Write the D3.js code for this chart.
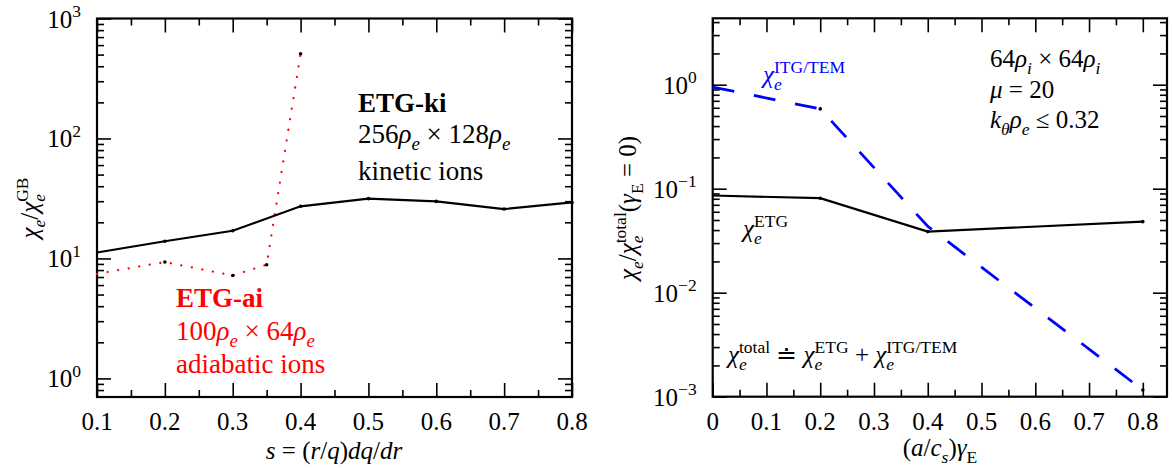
<!DOCTYPE html>
<html>
<head>
<meta charset="utf-8">
<script src="https://cdn.jsdelivr.net/npm/d3@7"></script>
<style>
  body { margin: 0; background: #fff; }
  svg text { font-family: "Liberation Serif", "Times New Roman", serif; }
</style>
</head>
<body>
<svg id="chart" width="1172" height="468"></svg>
<script>
// Left panel: chi_e / chi_GB vs magnetic shear s
var shearKinetic = [0.1, 0.2, 0.3, 0.4, 0.5, 0.6, 0.7, 0.8];
var chiKinetic = [11.2, 13.9, 17.0, 27.2, 31.5, 29.9, 25.8, 29.3];
var shearAdiabatic = [0.1, 0.2, 0.3, 0.35, 0.4];
var chiAdiabatic = [7.45, 9.33, 7.21, 8.86, 508];

// Right panel: normalised chi_e vs E x B shear rate
var gammaETG = [0, 0.2, 0.4, 0.8];
var chiETG = [0.086, 0.081, 0.0387, 0.0482];
var gammaITG = [0, 0.2, 0.4, 0.8];
var chiITG = [0.95, 0.585, 0.0435, 0.00116];

var leftXTicks = [0.1, 0.2, 0.3, 0.4, 0.5, 0.6, 0.7, 0.8];
var rightXTicks = [0, 0.1, 0.2, 0.3, 0.4, 0.5, 0.6, 0.7, 0.8];
var leftYTicks = [1, 10, 100, 1000];
var rightYTicks = [0.001, 0.01, 0.1, 1];

var svg = d3.select("#chart");

// text with italic / sub / sup pieces
function rich(sel, x, y, parts, o) {
    o = o || {};
    var fs = o.size || 25;
    var t = sel.append("text")
        .attr("x", x).attr("y", y)
        .style("font-size", fs + "px")
        .attr("fill", o.color || "#000")
        .attr("text-anchor", o.anchor || "start");
    if (o.rotate) t.attr("transform", "rotate(-90," + x + "," + y + ")");
    var cur = 0, prev = null;
    parts.forEach(function(p) {
        var txt = p[0], f = p[1] || "";
        var sub = f.indexOf("_") >= 0, sup = f.indexOf("^") >= 0;
        var off = sub ? 0.27 * fs : sup ? -0.42 * fs : 0;
        var ts = t.append("tspan").text(txt).attr("dy", off - cur);
        cur = off;
        if (sub || sup) ts.style("font-size", (fs * 0.7) + "px");
        if (f.indexOf("i") >= 0) ts.style("font-style", "italic");
        if (f.indexOf("b") >= 0) ts.style("font-weight", "bold");
        if (f.indexOf("<") >= 0 && prev) ts.attr("dx", -prev.node().getComputedTextLength());
        prev = ts;
    });
    return t;
}

function logMinor(lo, hi) {
    var out = [];
    for (var e = Math.floor(Math.log10(lo)); e <= Math.ceil(Math.log10(hi)); e++) {
        for (var m = 2; m <= 9; m++) {
            var v = m * Math.pow(10, e);
            if (v > lo * 1.0001 && v < hi) out.push(v);
        }
    }
    return out;
}

function frame(x, y, xTicks, xMinor, yTicks, yMinor, fmt) {
    var L = x.range()[0], R = x.range()[1], B = y.range()[0], T = y.range()[1];
    var g = svg.append("g");

    function axisGroup(axis, tx, ty) {
        var a = g.append("g").attr("transform", "translate(" + tx + "," + ty + ")").call(axis);
        a.select(".domain").remove();
        a.selectAll("line").attr("stroke", "#000").attr("stroke-width", 1.6);
        return a;
    }
    // major + minor ticks on all four sides, pointing inward
    axisGroup(d3.axisBottom(x).tickValues(xTicks).tickSizeInner(-14).tickSizeOuter(0).tickFormat(""), 0, B);
    axisGroup(d3.axisBottom(x).tickValues(xMinor).tickSizeInner(-7).tickSizeOuter(0).tickFormat(""), 0, B);
    axisGroup(d3.axisTop(x).tickValues(xTicks).tickSizeInner(-14).tickSizeOuter(0).tickFormat(""), 0, T);
    axisGroup(d3.axisTop(x).tickValues(xMinor).tickSizeInner(-7).tickSizeOuter(0).tickFormat(""), 0, T);
    axisGroup(d3.axisLeft(y).tickValues(yTicks).tickSizeInner(-14).tickSizeOuter(0).tickFormat(""), L, 0);
    axisGroup(d3.axisLeft(y).tickValues(yMinor).tickSizeInner(-7).tickSizeOuter(0).tickFormat(""), L, 0);
    axisGroup(d3.axisRight(y).tickValues(yTicks).tickSizeInner(-14).tickSizeOuter(0).tickFormat(""), R, 0);
    axisGroup(d3.axisRight(y).tickValues(yMinor).tickSizeInner(-7).tickSizeOuter(0).tickFormat(""), R, 0);

    g.append("rect")
        .attr("x", L).attr("y", T).attr("width", R - L).attr("height", B - T)
        .attr("fill", "none").attr("stroke", "#000").attr("stroke-width", 2.2);

    // tick labels
    xTicks.forEach(function(v) {
        rich(g, x(v), 430, [[fmt(v)]], { anchor: "middle" });
    });
    yTicks.forEach(function(v) {
        var e = Math.round(Math.log10(v));
        rich(g, L - 16, y(v) + 9, [["10"], [String(e).replace("-", "\u2212"), "^"]], { anchor: "end" });
    });
    return g;
}

function series(x, y, xs, ys, color, width, dash, dots) {
    var line = d3.line().x(function(d) { return x(d[0]); }).y(function(d) { return y(d[1]); });
    var pts = xs.map(function(v, i) { return [v, ys[i]]; });
    var p = svg.append("path").datum(pts).attr("d", line)
        .attr("fill", "none").attr("stroke", color).attr("stroke-width", width);
    if (dash) p.attr("stroke-dasharray", dash);
    if (dash && dash.indexOf("0.1") === 0) p.attr("stroke-linecap", "round");
    svg.append("g").selectAll("circle").data(pts.filter(function(d, i) { return dots.indexOf(i) >= 0; }))
        .enter().append("circle")
        .attr("cx", function(d) { return x(d[0]); })
        .attr("cy", function(d) { return y(d[1]); })
        .attr("r", 1.8).attr("fill", "#000");
}

// ---------- left panel ----------
var xL = d3.scaleLinear().domain([0.1, 0.8]).range([97, 572]);
var yL = d3.scaleLog().domain([0.7, 1000]).range([397, 18.5]);
frame(xL, yL, leftXTicks, [0.15, 0.25, 0.35, 0.45, 0.55, 0.65, 0.75],
      leftYTicks, [0.8, 0.9].concat(logMinor(1, 1000)), d3.format(".1f"));

series(xL, yL, shearAdiabatic, chiAdiabatic, "#ff0000", 2.2, "0.1,10.6", [1, 2, 3, 4]);
series(xL, yL, shearKinetic, chiKinetic, "#000", 2.2, null, [1, 2, 3, 4, 5, 6, 7]);

rich(svg, 358, 112, [["ETG-ki", "b"]], { size: 27 });
rich(svg, 358, 143, [["256"], ["\u03c1", "i"], ["e", "i_"], [" \u00d7 128"], ["\u03c1", "i"], ["e", "i_"]], { size: 27 });
rich(svg, 358, 180, [["kinetic ions"]], { size: 27 });

rich(svg, 176, 307, [["ETG-ai", "b"]], { size: 27, color: "#ff0000" });
rich(svg, 176, 340, [["100"], ["\u03c1", "i"], ["e", "i_"], [" \u00d7 64"], ["\u03c1", "i"], ["e", "i_"]], { size: 27, color: "#ff0000" });
rich(svg, 176, 373, [["adiabatic ions"]], { size: 27, color: "#ff0000" });

rich(svg, 334, 459, [["s", "i"], [" = ("], ["r", "i"], ["/"], ["q", "i"], [")"], ["dq", "i"], ["/"], ["dr", "i"]], { anchor: "middle" });
rich(svg, 38, 208, [["\u03c7", "i"], ["e", "i_"], ["/"], ["\u03c7", "i"], ["e", "i_"], ["GB", "^<"]], { anchor: "middle", rotate: true });

// ---------- right panel ----------
var xR = d3.scaleLinear().domain([0, 0.845]).range([712.7, 1167]);
var yR = d3.scaleLog().domain([0.001, 4.35]).range([396.7, 18.3]);
frame(xR, yR, rightXTicks, [0.05, 0.15, 0.25, 0.35, 0.45, 0.55, 0.65, 0.75],
      rightYTicks, logMinor(0.001, 4.35),
      function(v) { return v === 0 ? "0" : d3.format(".1f")(v); });

series(xR, yR, gammaITG, chiITG, "#0000ff", 2.8, "22,20", [1, 3]);
series(xR, yR, gammaETG, chiETG, "#000", 2.2, null, [1, 2, 3]);

rich(svg, 763, 83, [["\u03c7", "i"], ["e", "i_"], ["ITG/TEM", "^<"]], { color: "#0000ff" });
rich(svg, 743, 237, [["\u03c7", "i"], ["e", "i_"], ["ETG", "^<"]]);
rich(svg, 990, 67, [["64"], ["\u03c1", "i"], ["i", "i_"], [" \u00d7 64"], ["\u03c1", "i"], ["i", "i_"]]);
rich(svg, 990, 98, [["\u03bc", "i"], [" = 20"]]);
rich(svg, 990, 128, [["k", "i"], ["\u03b8", "i_"], ["\u03c1", "i"], ["e", "i_"], [" \u2264 0.32"]]);
rich(svg, 728, 363, [["\u03c7", "i"], ["e", "i_"], ["total", "^<"], [" \u2250 "], ["\u03c7", "i"], ["e", "i_"], ["ETG", "^<"],
                     [" + "], ["\u03c7", "i"], ["e", "i_"], ["ITG/TEM", "^<"]]);

rich(svg, 940, 456, [["("], ["a", "i"], ["/"], ["c", "i"], ["s", "i_"], [")"], ["\u03b3", "i"], ["E", "_"]], { anchor: "middle" });
rich(svg, 636, 208, [["\u03c7", "i"], ["e", "i_"], ["/"], ["\u03c7", "i"], ["e", "i_"], ["total", "^<"], ["("], ["\u03b3", "i"], ["E", "_"], [" = 0)"]],
     { anchor: "middle", rotate: true });
</script>
</body>
</html>
